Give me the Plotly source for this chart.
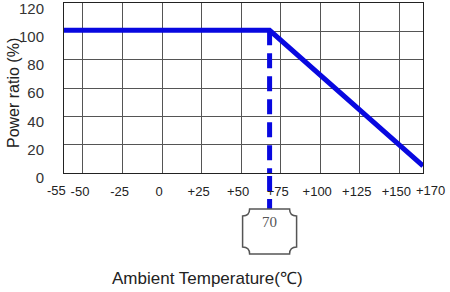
import plotly.graph_objects as go

# axis units (the plot edges are compressed in the original)
x_range = [-62, 165]
tick_pos = [-50, -25, 0, 25, 50, 75, 100, 125, 150]
tick_text = ["-50", "-25", "0", "+25", "+50", "+75", "+100", "+125", "+150"]
edge_pos = [-66.5, 170]          # where the edge labels sit (axis units)
edge_text = ["-55", "+170"]
y_ticks = [0, 20, 40, 60, 80, 100, 120]

# derating curve
temp = [-62, 68, 165]
power = [101, 101, 5]
knee_temp = 68
knee_label = "70"

BLUE = "#0808e0"

fig = go.Figure()
fig.add_trace(go.Scatter(x=temp, y=power, mode="lines",
                         line=dict(color=BLUE, width=5), showlegend=False,
                         hoverinfo="skip"))
fig.add_trace(go.Scatter(x=[knee_temp, knee_temp], y=[power[1], 0], mode="lines",
                         line=dict(color=BLUE, width=5, dash="15px,8px"),
                         showlegend=False, hoverinfo="skip"))

def xp(v):
    return (v - x_range[0]) / (x_range[1] - x_range[0])

PH = 170.0   # plot height px
def yp(px):  # pixel row -> paper y (plot bottom at row 173)
    return (173 - px) / PH

for pos, txt in zip(edge_pos, edge_text):
    fig.add_annotation(x=xp(pos), y=yp(190), xref="paper", yref="paper",
                       xanchor="center", yanchor="middle", text=txt, showarrow=False,
                       font=dict(family="Liberation Sans", size=13, color="#222"))

kx = xp(knee_temp)
fig.add_shape(type="line", xref="paper", yref="paper", x0=kx, x1=kx, y0=yp(176), y1=yp(210),
              line=dict(color=BLUE, width=5, dash="15px,8px"))

# box with concave corners
hw = 27 / 359
top, bot = yp(209), yp(254)
cx_ = 7 / 359
cy_ = 7 / PH
L, R = kx - hw, kx + hw
path = (f"M {L+cx_},{top} L {R-cx_},{top} Q {R-cx_},{top-cy_} {R},{top-cy_} "
        f"L {R},{bot+cy_} Q {R-cx_},{bot+cy_} {R-cx_},{bot} "
        f"L {L+cx_},{bot} Q {L+cx_},{bot+cy_} {L},{bot+cy_} "
        f"L {L},{top-cy_} Q {L+cx_},{top-cy_} {L+cx_},{top} Z")
fig.add_shape(type="path", xref="paper", yref="paper", path=path,
              line=dict(color="#555", width=1.5), fillcolor="white")
fig.add_annotation(x=kx, y=(top + bot) / 2, xref="paper", yref="paper",
                   text=knee_label, showarrow=False,
                   font=dict(family="Liberation Serif", size=15, color="#555"))

fig.add_annotation(x=(13 - 64) / 359, y=yp(93), xref="paper", yref="paper",
                   xanchor="center", yanchor="middle",
                   text="Power ratio (%)", textangle=-90, showarrow=False,
                   font=dict(family="Liberation Sans", size=16, color="#222"))
fig.add_annotation(x=(207 - 64) / 359, y=yp(278), xref="paper", yref="paper",
                   xanchor="center", yanchor="middle",
                   text="Ambient Temperature(℃)", showarrow=False,
                   font=dict(family="Liberation Sans", size=17, color="#222"))

fig.update_layout(
    width=450, height=292,
    margin=dict(l=64, r=27, t=3, b=119, autoexpand=False),
    paper_bgcolor="white", plot_bgcolor="white",
    xaxis=dict(range=x_range, tickvals=tick_pos, ticktext=tick_text, tickangle=0,
               automargin=False,
               showgrid=True, gridcolor="#555", gridwidth=1,
               showline=True, linecolor="#222", linewidth=1, mirror=True,
               ticks="outside", ticklen=6, tickcolor="rgba(0,0,0,0)",
               ticklabelshift=-3,
               tickfont=dict(family="Liberation Sans", size=13, color="#222"),
               zeroline=False, fixedrange=True),
    yaxis=dict(range=[0, 120.3], tickvals=y_ticks, automargin=False,
               showgrid=True, gridcolor="#555", gridwidth=1,
               showline=True, linecolor="#222", linewidth=1, mirror=True,
               ticks="outside", ticklen=16, tickcolor="rgba(0,0,0,0)",
               ticklabelshift=5, ticklabeloverflow="allow",
               tickfont=dict(family="Liberation Sans", size=15, color="#333"),
               zeroline=False, fixedrange=True),
)

fig.write_html("out.html")
